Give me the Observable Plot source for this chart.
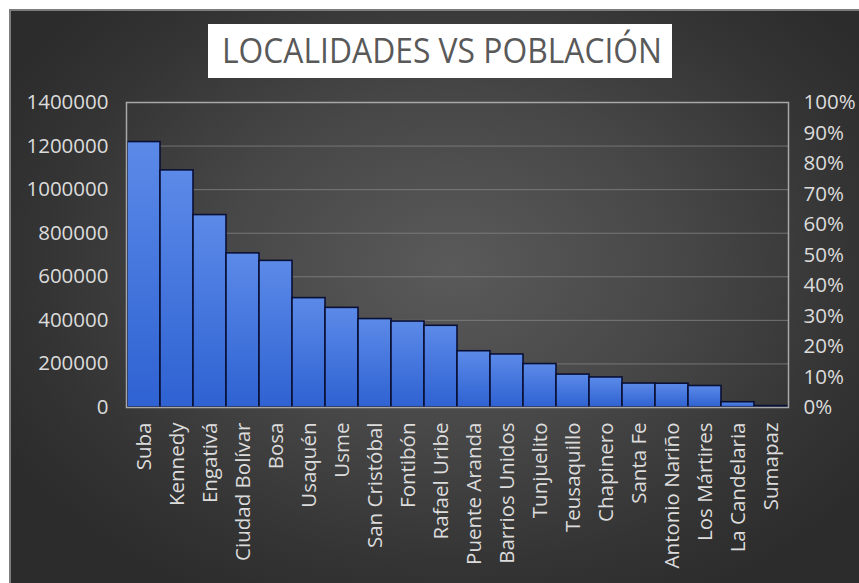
<!DOCTYPE html>
<html>
<head>
<meta charset="utf-8">
<script src="https://cdn.jsdelivr.net/npm/d3@7"></script>
<script src="https://cdn.jsdelivr.net/npm/@observablehq/plot@0.6"></script>
<style>
  html, body { margin: 0; padding: 0; background: #ffffff; }
  #chart {
    position: absolute; left: 9px; top: 9px; width: 850px; height: 574px;
    background: radial-gradient(ellipse 60% 65% at 52% 45%, #5a5a5a 0%, #474747 45%, #343434 80%, #2c2c2c 100%);
    box-shadow: inset 2px 2px 0 #7d7d7d;
    overflow: hidden;
  }
  #title { display: block; }
  #plot { display: block; }
</style>
</head>
<body>
<div id="chart">
  <svg id="title" width="850" height="80" xmlns="http://www.w3.org/2000/svg">
    <rect x="199" y="15" width="464" height="54" fill="#ffffff"></rect>
    <text x="213" y="54" fill="#595959" font-family="'Liberation Sans Narrow', 'Open Sans', sans-serif" font-size="35" textLength="440" lengthAdjust="spacingAndGlyphs">LOCALIDADES VS POBLACIÓN</text>
  </svg>
  <div id="plot"></div>
</div>
<script>
const localidades = ["Suba","Kennedy","Engativá","Ciudad Bolívar","Bosa","Usaquén","Usme","San Cristóbal","Fontibón","Rafael Uribe","Puente Aranda","Barrios Unidos","Tunjuelito","Teusaquillo","Chapinero","Santa Fe","Antonio Nariño","Los Mártires","La Candelaria","Sumapaz"];
const poblacion = [1218513,1088443,883319,707569,673077,501999,457302,406025,394648,375107,258287,243465,199430,151092,137870,110048,109176,98758,24096,6460];
const leftTicks = [0,200000,400000,600000,800000,1000000,1200000,1400000];
const rightTickLabels = ["0%","10%","20%","30%","40%","50%","60%","70%","80%","90%","100%"];
const yMax = 1400000;

const data = localidades.map((name, i) => ({name, value: poblacion[i]}));
const rightTickValues = rightTickLabels.map((_, i) => yMax * i / (rightTickLabels.length - 1));

const fontStyle = {fontFamily: "'Open Sans', sans-serif", fontSize: 20.5};

const chart = Plot.plot({
  width: 850,
  height: 494,
  marginTop: 13,
  marginLeft: 117,
  marginRight: 71,
  marginBottom: 176,
  x: {domain: localidades, padding: 0},
  y: {domain: [0, yMax]},
  style: {background: "transparent", color: "#d9d9d9", fontFamily: "'Open Sans', sans-serif", fontSize: "20.5px", overflow: "visible"},
  marks: [
    Plot.gridY(leftTicks.slice(1), {stroke: "#8a8a8a", strokeOpacity: 0.7, strokeWidth: 1}),
    Plot.barY(data, {x: "name", y: "value", fill: "url(#barGrad)", stroke: "#0a1035", strokeWidth: 1.6}),
    Plot.frame({stroke: "#a8a8a8", strokeWidth: 1.5}),
    Plot.axisY(leftTicks, {anchor: "left", tickSize: 0, tickPadding: 18, tickFormat: d => String(d), label: null, fill: "#dcdcdc", ...fontStyle}),
    Plot.axisY(rightTickValues, {anchor: "right", tickSize: 0, tickPadding: 15, tickFormat: (d, i) => rightTickLabels[i], label: null, fill: "#dcdcdc", ...fontStyle}),
    Plot.axisX({anchor: "bottom", tickSize: 0, tickRotate: -90, tickPadding: 15, label: null, fill: "#dcdcdc", ...fontStyle})
  ]
});

const svg = d3.select(chart);
const defs = svg.insert("defs", ":first-child");
const g = defs.append("linearGradient").attr("id", "barGrad").attr("x1", 0).attr("y1", 0).attr("x2", 0).attr("y2", 1);
g.append("stop").attr("offset", "0%").attr("stop-color", "#5b8ae8");
g.append("stop").attr("offset", "100%").attr("stop-color", "#2f62d2");

document.getElementById("plot").appendChild(chart);
</script>
</body>
</html>
